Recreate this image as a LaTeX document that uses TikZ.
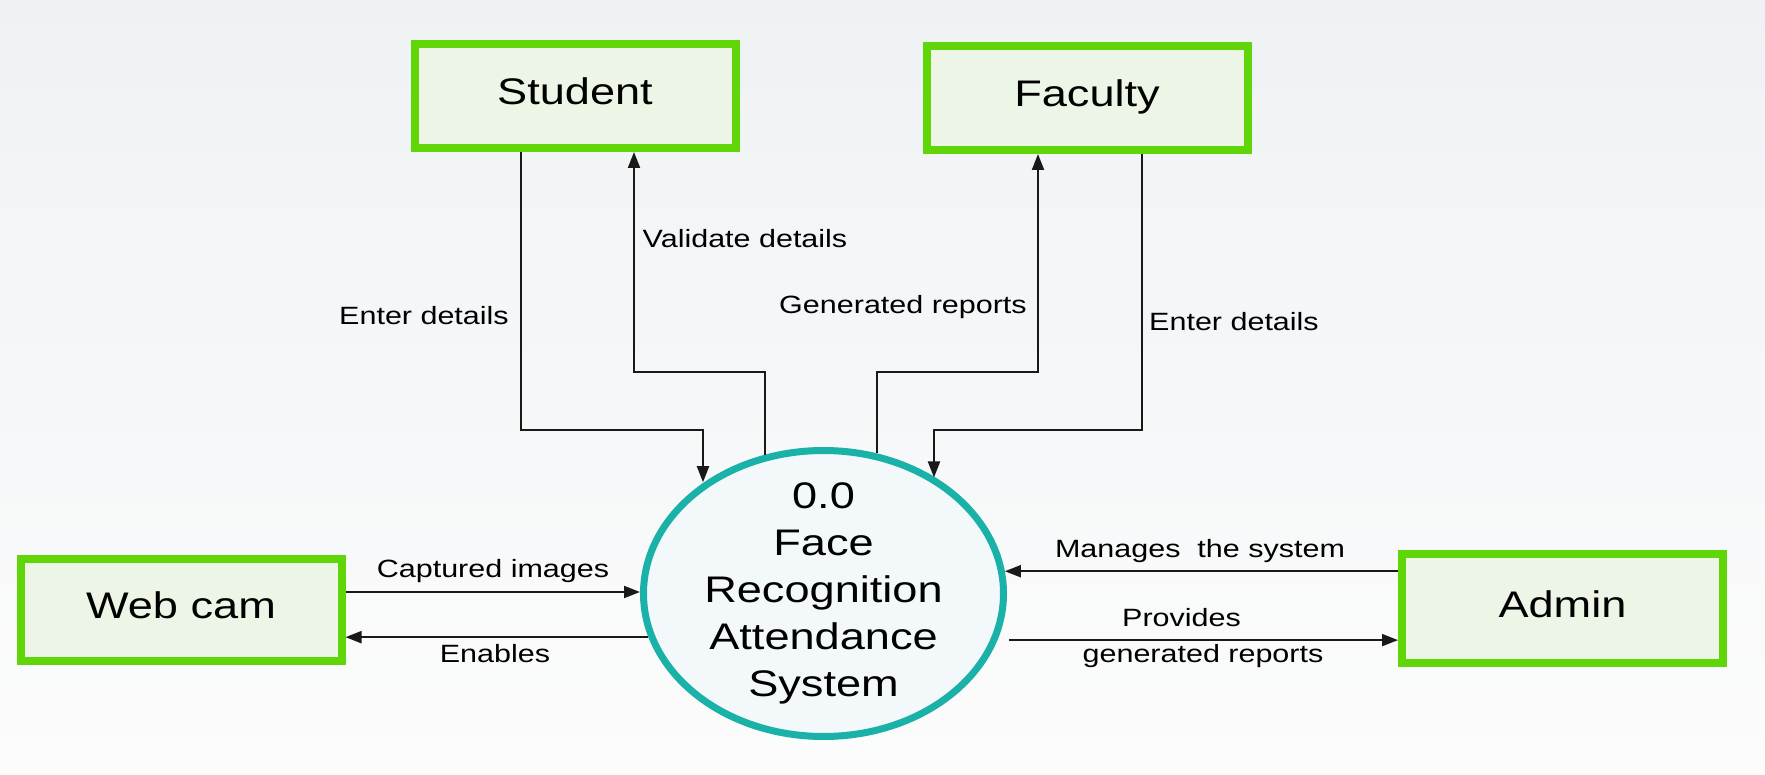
\documentclass[tikz,border=0pt]{standalone}
\usepackage{fontspec}
\setmainfont[FakeStretch=1.22]{Liberation Sans}
\usetikzlibrary{arrows.meta,shapes.geometric}
\definecolor{entgreen}{RGB}{96,214,8}
\definecolor{entfill}{RGB}{237,246,230}
\definecolor{proc}{RGB}{26,178,168}
\definecolor{procfill}{RGB}{243,248,250}
\definecolor{flowc}{RGB}{25,25,25}
\definecolor{bgtop}{RGB}{239,242,244}
\definecolor{bgbot}{RGB}{252,252,252}

\begin{document}
\begin{tikzpicture}[x=1pt,y=-1pt,
  entity/.style={draw=entgreen, fill=entfill, line width=8pt,
    minimum width=321pt, minimum height=104pt, inner sep=0pt,
    text height=27pt, text depth=10pt,
    font=\fontsize{37}{44}\selectfont},
  process/.style={ellipse, draw=proc, fill=procfill, line width=7pt,
    minimum width=360pt, minimum height=286pt, inner sep=0pt},
  systext/.style={align=center, inner sep=0pt,
    font=\fontsize{37}{47}\selectfont},
  flow/.style={draw=flowc, line width=2pt,
    -{Triangle[length=16pt,width=12pt]}},
  lbl/.style={font=\fontsize{25}{30}\selectfont, inner sep=0pt, anchor=base}
]
\useasboundingbox (0,0) rectangle (1765,775);
\fill[top color=bgtop, bottom color=bgbot] (0,0) rectangle (1765,775);

% external entities
\node[entity] (stu) at (575,96) {Student};
\node[entity] (fac) at (1087,98) {Faculty};
\node[entity, minimum height=102pt] (cam) at (181,610) {Web cam};
\node[entity, minimum height=109pt] (adm) at (1562.5,608.5) {Admin};

% central process
\node[process] (sys) at (823.5,593.5) {};
\node[systext] (systxt) at (sys.center) {0.0\\Face\\Recognition\\Attendance\\System};

% bend points of the orthogonal flows
\coordinate (b1) at (703,430);
\coordinate (b2) at (634,372);
\coordinate (b3) at (1038,372);
\coordinate (b4) at (934,430);
\coordinate (c1) at ([yshift=18pt]cam.east);

% flows between student / faculty and the process
\draw[flow] ([xshift=-54pt]stu.south) |- (b1) -- (b1 |- sys.137.5);
\draw[flow] (sys.113.2) |- (b2) -- (b2 |- stu.south);
\draw[flow] (sys.69.1) |- (b3) -- (b3 |- fac.south);
\draw[flow] ([xshift=55pt]fac.south) |- (b4) -- (b4 |- sys.46.6);

% web cam flows
\draw[flow] (c1) -- (c1 -| sys.west);
\draw[flow] (sys.194.6) -- (sys.194.6 -| cam.east);

% admin flows
\draw[flow] (sys.7.1 -| adm.west) -- (sys.7.1);
\draw[flow, shorten <=12pt] (sys.345.1) -- (sys.345.1 -| adm.west);

% flow labels
\node[lbl] (l1) at (424,325) {Enter details};
\node[lbl] (l2) at (745,248) {Validate details};
\node[lbl] (l3) at (903,314) {Generated reports};
\node[lbl] (l4) at (1234,331) {Enter details};
\node[lbl] (l5) at (493,577) {Captured images};
\node[lbl] (l6) at (495,662) {Enables};
\node[lbl] (l7) at (1200,557) {Manages\ \ the system};
\node[lbl] (l8) at (1181.5,626) {Provides};
\node[lbl] (l9) at (1203,662) {generated reports};
\end{tikzpicture}
\end{document}
